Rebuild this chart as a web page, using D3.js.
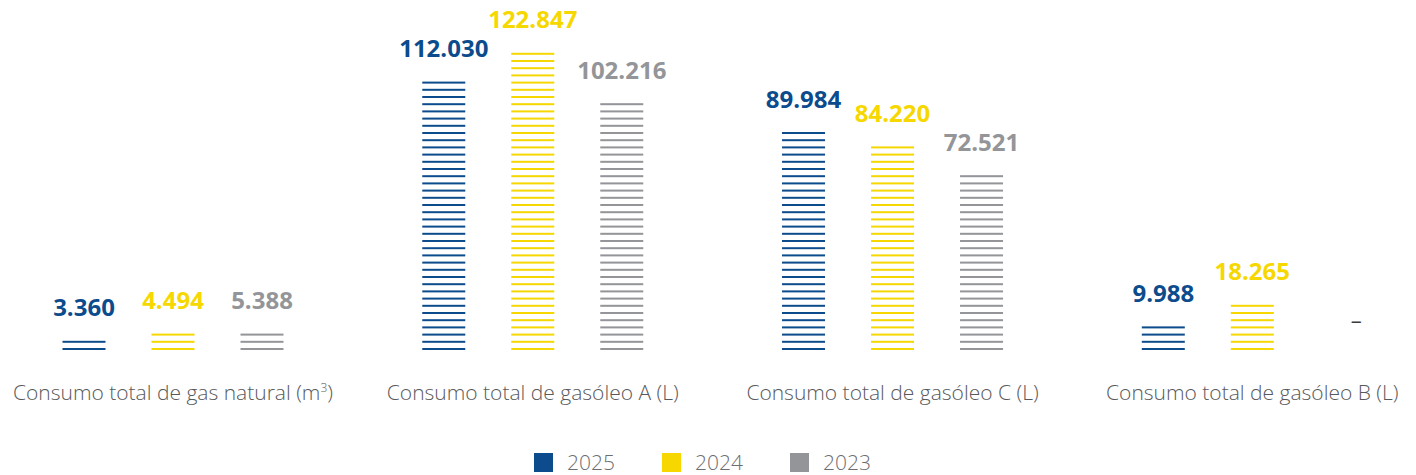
<!DOCTYPE html>
<html>
<head>
<meta charset="utf-8">
<script src="https://cdn.jsdelivr.net/npm/d3@7"></script>
<style>
  html, body { margin: 0; padding: 0; background: #ffffff; }
  svg { display: block; font-family: "Open Sans", "Noto Sans", sans-serif; }
</style>
</head>
<body>
<svg id="chart" width="1416" height="475"></svg>
<script>
// Consumption per fuel type and year
const categories = [
  "Consumo total de gas natural (m³)",
  "Consumo total de gasóleo A (L)",
  "Consumo total de gasóleo C (L)",
  "Consumo total de gasóleo B (L)"
];
// Unit of each category: gas natural is measured in m³, the rest in litres
const units = ["m3", "L", "L", "L"];
const years = ["2025", "2024", "2023"];
const values2025 = [3360, 112030, 89984, 9988];
const values2024 = [4494, 122847, 84220, 18265];
const values2023 = [5388, 102216, 72521, null];
const colors = ["#0c4b8c", "#f6d800", "#939598"];

const series = [values2025, values2024, values2023];
const fmt = v => d3.format(",")(v).replace(/,/g, ".");

const svg = d3.select("#chart");
const baseline = 350;
const stripeStep = 7.2;
const stripeH = 2;
const barW = 43;

// Horizontal layout: one slot per category, one offset per year
const x0 = d3.scalePoint().domain(categories).range([173, 1252.3]);
const x1 = d3.scalePoint().domain(years).range([-89, 89]);

// Separate vertical scales for the two units
const yScales = {
  L: d3.scaleLinear().domain([0, 125000]).range([baseline, 49]),
  m3: d3.scaleLinear().domain([0, 5000]).range([baseline, 332])
};

const bars = [];
categories.forEach((c, ci) => {
  years.forEach((yr, yi) => {
    bars.push({ cat: c, ci, year: yr, yi, value: series[yi][ci] });
  });
});

const g = svg.append("g");

bars.forEach(b => {
  const cx = x0(b.cat) + x1(b.year);
  if (b.value == null) {
    // no data for this year
    g.append("text")
      .attr("x", cx + 15)
      .attr("y", 328)
      .attr("text-anchor", "middle")
      .attr("font-size", 22)
      .attr("fill", "#3a3a3a")
      .text("–");
    return;
  }
  const y = yScales[units[b.ci]];
  const h = baseline - y(b.value);
  const n = Math.ceil(h / stripeStep);
  const stripes = d3.range(n);
  g.append("g")
    .selectAll("rect")
    .data(stripes)
    .join("rect")
    .attr("x", cx - barW / 2)
    .attr("y", k => baseline - 1 - stripeH / 2 - k * stripeStep)
    .attr("width", barW)
    .attr("height", stripeH)
    .attr("fill", colors[b.yi]);
  const topLine = baseline - 1 - (n - 1) * stripeStep;
  g.append("text")
    .attr("x", cx)
    .attr("y", topLine - 25.5)
    .attr("text-anchor", "middle")
    .attr("font-size", 24)
    .attr("font-weight", 700)
    .attr("fill", colors[b.yi])
    .text(fmt(b.value));
});

// Category labels
categories.forEach((c, ci) => {
  const t = svg.append("text")
    .attr("x", x0(c))
    .attr("y", 400)
    .attr("text-anchor", "middle")
    .attr("font-size", 21)
    .attr("font-weight", 300)
    .attr("fill", "#58595b");
  if (units[ci] === "m3") {
    t.append("tspan").text("Consumo total de gas natural (m");
    t.append("tspan").attr("font-size", 12).attr("dy", -8).text("3");
    t.append("tspan").attr("dy", 8).text(")");
  } else {
    t.text(c);
  }
});

// Legend
const legend = svg.append("g").attr("transform", "translate(534,453)");
years.forEach((yr, i) => {
  const item = legend.append("g").attr("transform", `translate(${i * 128},0)`);
  item.append("rect").attr("width", 19).attr("height", 19).attr("fill", colors[i]);
  item.append("text")
    .attr("x", 33).attr("y", 17)
    .attr("font-size", 21)
    .attr("font-weight", 300)
    .attr("fill", "#6d6e71")
    .text(yr);
});
</script>
</body>
</html>
